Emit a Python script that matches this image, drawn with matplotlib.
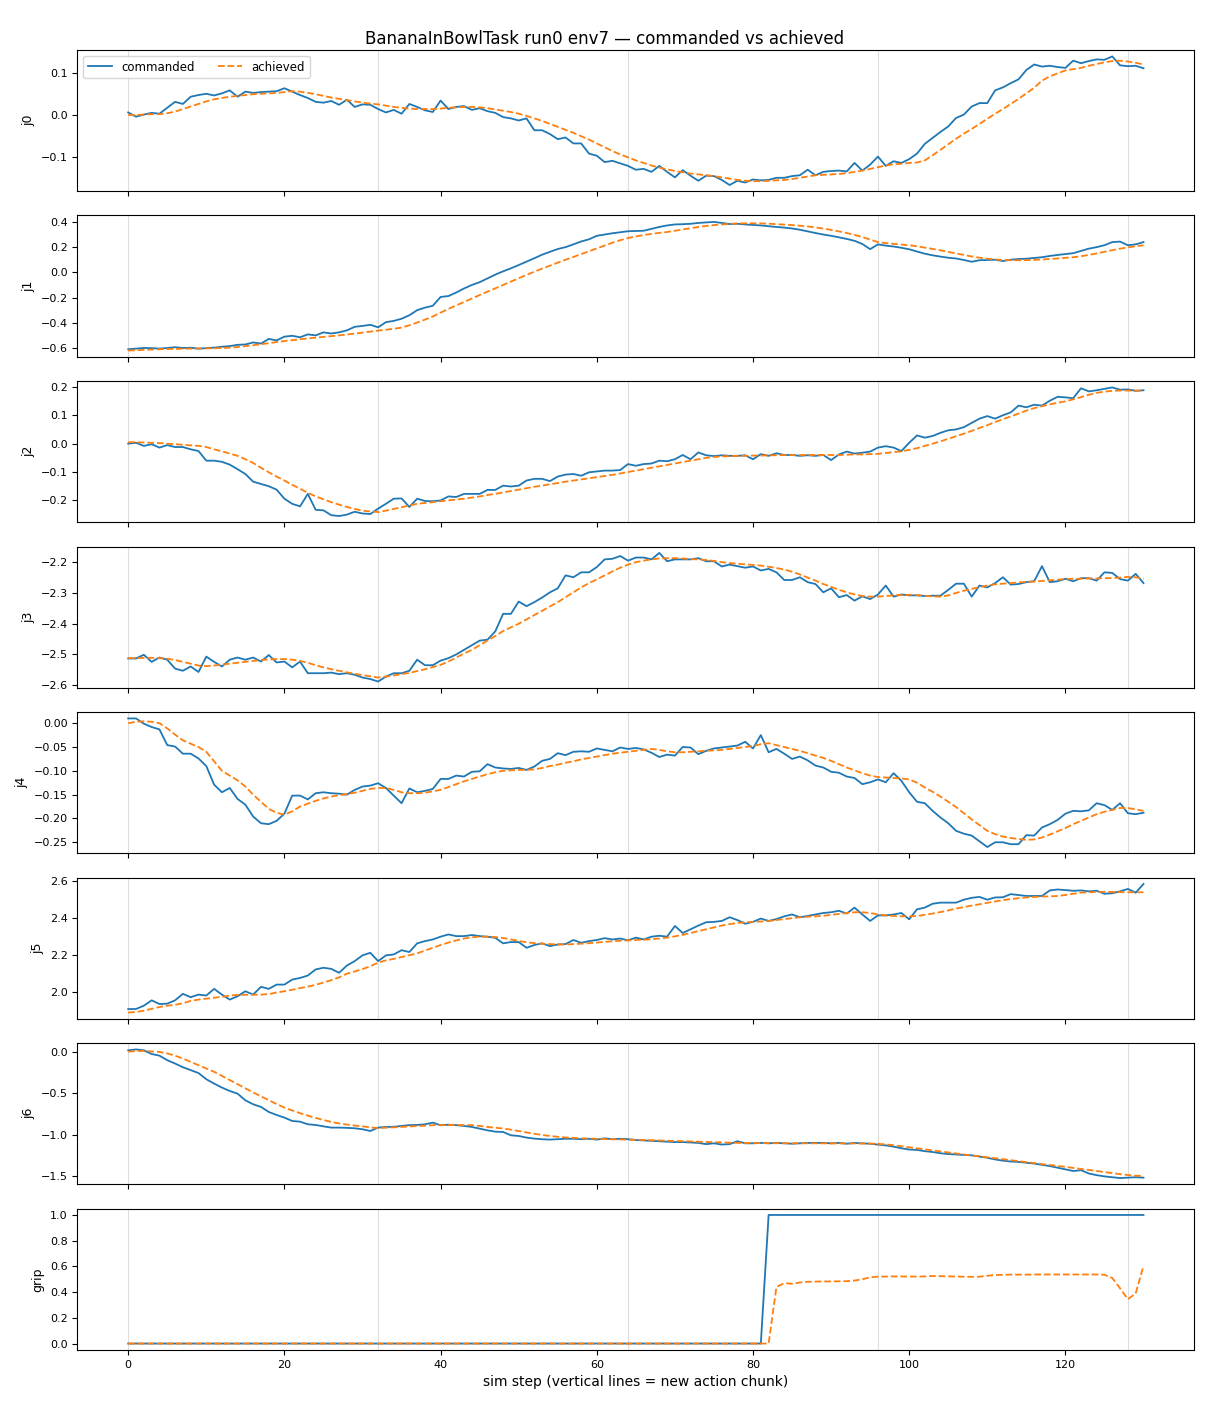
import matplotlib
matplotlib.use("Agg")
import matplotlib.pyplot as plt

steps = list(range(131))
chunk_starts = [0, 32, 64, 96, 128]
joint_labels = ["j0", "j1", "j2", "j3", "j4", "j5", "j6", "grip"]

j0_cmd = [0.006, -0.004, 0.001, 0.005, 0.003, 0.017, 0.031, 0.026, 0.043, 0.047,
          0.050, 0.046, 0.051, 0.058, 0.043, 0.055, 0.052, 0.054, 0.055, 0.056,
          0.063, 0.055, 0.047, 0.040, 0.031, 0.029, 0.033, 0.024, 0.036, 0.019,
          0.025, 0.024, 0.014, 0.006, 0.012, 0.003, 0.026, 0.019, 0.011, 0.007,
          0.034, 0.014, 0.019, 0.021, 0.012, 0.016, 0.009, 0.005, -0.005, -0.008,
          -0.013, -0.008, -0.036, -0.036, -0.045, -0.057, -0.053, -0.067, -0.067, -0.091,
          -0.096, -0.111, -0.108, -0.114, -0.120, -0.129, -0.127, -0.134, -0.120, -0.134,
          -0.147, -0.130, -0.143, -0.155, -0.143, -0.144, -0.153, -0.165, -0.155, -0.159,
          -0.152, -0.154, -0.153, -0.148, -0.148, -0.144, -0.142, -0.129, -0.142, -0.134,
          -0.132, -0.131, -0.133, -0.113, -0.131, -0.117, -0.098, -0.120, -0.109, -0.113,
          -0.104, -0.091, -0.068, -0.054, -0.040, -0.027, -0.007, 0.001, 0.020, 0.028,
          0.028, 0.058, 0.065, 0.075, 0.084, 0.106, 0.119, 0.114, 0.116, 0.113,
          0.111, 0.128, 0.122, 0.127, 0.131, 0.130, 0.138, 0.117, 0.115, 0.116,
          0.110]
j0_ach = [0.000, 0.000, 0.001, 0.002, 0.002, 0.004, 0.008, 0.014, 0.020, 0.026,
          0.032, 0.037, 0.040, 0.043, 0.045, 0.047, 0.049, 0.050, 0.051, 0.052,
          0.054, 0.056, 0.055, 0.052, 0.049, 0.045, 0.041, 0.038, 0.035, 0.032,
          0.029, 0.027, 0.025, 0.022, 0.019, 0.017, 0.015, 0.014, 0.014, 0.014,
          0.015, 0.017, 0.018, 0.019, 0.019, 0.018, 0.016, 0.013, 0.010, 0.007,
          0.003, -0.002, -0.008, -0.014, -0.021, -0.028, -0.035, -0.042, -0.050, -0.058,
          -0.067, -0.076, -0.085, -0.093, -0.100, -0.107, -0.113, -0.119, -0.124, -0.128,
          -0.132, -0.135, -0.138, -0.140, -0.142, -0.144, -0.147, -0.150, -0.153, -0.155,
          -0.156, -0.156, -0.155, -0.154, -0.153, -0.151, -0.148, -0.145, -0.142, -0.141,
          -0.140, -0.139, -0.137, -0.134, -0.131, -0.127, -0.123, -0.119, -0.116, -0.115,
          -0.113, -0.112, -0.107, -0.095, -0.082, -0.069, -0.056, -0.044, -0.033, -0.021,
          -0.009, 0.003, 0.014, 0.026, 0.038, 0.051, 0.064, 0.081, 0.091, 0.098,
          0.105, 0.108, 0.111, 0.116, 0.120, 0.124, 0.127, 0.128, 0.126, 0.123,
          0.119]

j1_cmd = [-0.610, -0.605, -0.600, -0.601, -0.605, -0.600, -0.594, -0.600, -0.598, -0.605,
          -0.601, -0.597, -0.590, -0.585, -0.575, -0.572, -0.556, -0.565, -0.528, -0.540,
          -0.510, -0.503, -0.515, -0.492, -0.500, -0.476, -0.485, -0.476, -0.460, -0.432,
          -0.425, -0.416, -0.436, -0.395, -0.385, -0.368, -0.340, -0.300, -0.280, -0.265,
          -0.195, -0.188, -0.160, -0.128, -0.100, -0.078, -0.048, -0.018, 0.008, 0.032,
          0.058, 0.085, 0.112, 0.140, 0.163, 0.185, 0.200, 0.222, 0.245, 0.262,
          0.290, 0.300, 0.310, 0.318, 0.326, 0.328, 0.330, 0.345, 0.360, 0.372,
          0.380, 0.382, 0.385, 0.392, 0.396, 0.400, 0.392, 0.383, 0.385, 0.380,
          0.376, 0.372, 0.366, 0.360, 0.355, 0.348, 0.338, 0.325, 0.312, 0.300,
          0.290, 0.278, 0.265, 0.250, 0.225, 0.184, 0.222, 0.212, 0.205, 0.195,
          0.183, 0.165, 0.148, 0.135, 0.125, 0.116, 0.110, 0.098, 0.084, 0.096,
          0.098, 0.100, 0.090, 0.100, 0.106, 0.108, 0.114, 0.120, 0.130, 0.138,
          0.145, 0.152, 0.170, 0.188, 0.200, 0.215, 0.240, 0.244, 0.215, 0.222,
          0.240]
j1_ach = [-0.620, -0.618, -0.615, -0.612, -0.610, -0.608, -0.607, -0.606, -0.605, -0.604,
          -0.603, -0.602, -0.600, -0.597, -0.592, -0.585, -0.578, -0.570, -0.562, -0.553,
          -0.545, -0.538, -0.531, -0.524, -0.518, -0.512, -0.506, -0.500, -0.493, -0.486,
          -0.478, -0.470, -0.462, -0.455, -0.448, -0.438, -0.420, -0.398, -0.375, -0.350,
          -0.320, -0.290, -0.262, -0.235, -0.208, -0.180, -0.153, -0.127, -0.100, -0.073,
          -0.047, -0.020, 0.005, 0.030, 0.053, 0.077, 0.100, 0.122, 0.145, 0.167,
          0.190, 0.212, 0.235, 0.255, 0.272, 0.285, 0.296, 0.305, 0.313, 0.320,
          0.330, 0.340, 0.350, 0.360, 0.368, 0.375, 0.380, 0.385, 0.388, 0.389,
          0.389, 0.388, 0.386, 0.382, 0.379, 0.375, 0.370, 0.364, 0.356, 0.347,
          0.337, 0.325, 0.312, 0.297, 0.280, 0.260, 0.240, 0.232, 0.226, 0.220,
          0.215, 0.207, 0.196, 0.186, 0.175, 0.162, 0.150, 0.138, 0.126, 0.116,
          0.108, 0.102, 0.098, 0.096, 0.096, 0.097, 0.099, 0.102, 0.106, 0.110,
          0.115, 0.120, 0.128, 0.138, 0.150, 0.163, 0.176, 0.188, 0.198, 0.207,
          0.215]

j2_cmd = [0.000, 0.003, -0.008, -0.002, -0.014, -0.005, -0.012, -0.012, -0.020, -0.026,
          -0.060, -0.060, -0.064, -0.074, -0.090, -0.107, -0.134, -0.142, -0.150, -0.162,
          -0.194, -0.212, -0.221, -0.177, -0.233, -0.235, -0.252, -0.255, -0.250, -0.240,
          -0.246, -0.248, -0.229, -0.212, -0.194, -0.193, -0.223, -0.194, -0.202, -0.203,
          -0.200, -0.186, -0.188, -0.177, -0.177, -0.177, -0.163, -0.163, -0.148, -0.151,
          -0.148, -0.130, -0.124, -0.124, -0.132, -0.116, -0.109, -0.107, -0.113, -0.101,
          -0.098, -0.095, -0.095, -0.093, -0.072, -0.078, -0.072, -0.070, -0.060, -0.062,
          -0.055, -0.040, -0.055, -0.031, -0.041, -0.044, -0.041, -0.043, -0.043, -0.041,
          -0.055, -0.037, -0.043, -0.034, -0.040, -0.040, -0.043, -0.041, -0.043, -0.040,
          -0.058, -0.038, -0.028, -0.035, -0.032, -0.028, -0.014, -0.009, -0.014, -0.026,
          0.003, 0.029, 0.021, 0.027, 0.038, 0.047, 0.050, 0.058, 0.073, 0.088,
          0.097, 0.088, 0.100, 0.110, 0.134, 0.128, 0.137, 0.134, 0.151, 0.165,
          0.163, 0.160, 0.195, 0.184, 0.188, 0.193, 0.198, 0.190, 0.191, 0.186,
          0.188]
j2_ach = [0.005, 0.005, 0.004, 0.003, 0.002, 0.000, -0.002, -0.004, -0.006, -0.008,
          -0.012, -0.020, -0.027, -0.035, -0.043, -0.055, -0.068, -0.085, -0.101, -0.116,
          -0.130, -0.145, -0.159, -0.173, -0.186, -0.196, -0.206, -0.215, -0.223, -0.230,
          -0.236, -0.239, -0.241, -0.236, -0.230, -0.224, -0.218, -0.212, -0.209, -0.206,
          -0.203, -0.200, -0.197, -0.194, -0.190, -0.186, -0.181, -0.177, -0.172, -0.167,
          -0.162, -0.157, -0.152, -0.148, -0.143, -0.139, -0.134, -0.130, -0.126, -0.122,
          -0.118, -0.114, -0.110, -0.105, -0.100, -0.095, -0.090, -0.085, -0.080, -0.075,
          -0.070, -0.065, -0.060, -0.055, -0.050, -0.047, -0.045, -0.044, -0.043, -0.043,
          -0.042, -0.042, -0.041, -0.041, -0.040, -0.040, -0.040, -0.040, -0.040, -0.040,
          -0.040, -0.040, -0.039, -0.038, -0.038, -0.037, -0.036, -0.033, -0.030, -0.027,
          -0.022, -0.016, -0.008, 0.000, 0.008, 0.017, 0.026, 0.035, 0.045, 0.055,
          0.065, 0.076, 0.086, 0.096, 0.106, 0.116, 0.125, 0.132, 0.138, 0.144,
          0.149, 0.156, 0.164, 0.172, 0.179, 0.183, 0.186, 0.187, 0.187, 0.187,
          0.187]

j3_cmd = [-2.513, -2.513, -2.501, -2.524, -2.510, -2.517, -2.546, -2.553, -2.539, -2.557,
          -2.507, -2.524, -2.539, -2.517, -2.510, -2.517, -2.510, -2.523, -2.502, -2.526,
          -2.523, -2.542, -2.523, -2.561, -2.561, -2.561, -2.559, -2.564, -2.561, -2.566,
          -2.575, -2.580, -2.588, -2.572, -2.561, -2.561, -2.553, -2.517, -2.535, -2.535,
          -2.520, -2.512, -2.500, -2.485, -2.470, -2.455, -2.452, -2.425, -2.368, -2.368,
          -2.328, -2.343, -2.330, -2.315, -2.298, -2.285, -2.243, -2.249, -2.233, -2.233,
          -2.216, -2.191, -2.189, -2.180, -2.195, -2.185, -2.185, -2.191, -2.170, -2.197,
          -2.191, -2.191, -2.191, -2.187, -2.197, -2.197, -2.214, -2.208, -2.213, -2.218,
          -2.214, -2.227, -2.222, -2.233, -2.258, -2.258, -2.249, -2.265, -2.271, -2.298,
          -2.285, -2.314, -2.307, -2.325, -2.311, -2.320, -2.305, -2.276, -2.312, -2.305,
          -2.308, -2.308, -2.310, -2.309, -2.309, -2.290, -2.270, -2.270, -2.312, -2.276,
          -2.282, -2.268, -2.249, -2.273, -2.271, -2.265, -2.262, -2.213, -2.265, -2.262,
          -2.254, -2.262, -2.252, -2.252, -2.260, -2.233, -2.235, -2.255, -2.260, -2.238,
          -2.268]
j3_ach = [-2.512, -2.512, -2.511, -2.511, -2.512, -2.514, -2.518, -2.524, -2.530, -2.536,
          -2.538, -2.536, -2.533, -2.530, -2.527, -2.524, -2.521, -2.518, -2.516, -2.515,
          -2.515, -2.517, -2.521, -2.527, -2.535, -2.542, -2.548, -2.553, -2.558, -2.563,
          -2.567, -2.571, -2.575, -2.572, -2.568, -2.564, -2.560, -2.554, -2.548, -2.541,
          -2.534, -2.523, -2.510, -2.497, -2.485, -2.470, -2.455, -2.440, -2.424, -2.412,
          -2.400, -2.386, -2.372, -2.358, -2.344, -2.330, -2.314, -2.298, -2.282, -2.268,
          -2.256, -2.243, -2.230, -2.218, -2.208, -2.200, -2.195, -2.191, -2.188, -2.187,
          -2.187, -2.188, -2.190, -2.191, -2.193, -2.196, -2.200, -2.203, -2.205, -2.207,
          -2.209, -2.211, -2.215, -2.219, -2.224, -2.231, -2.240, -2.250, -2.260, -2.271,
          -2.280, -2.290, -2.298, -2.305, -2.310, -2.312, -2.312, -2.310, -2.308, -2.307,
          -2.306, -2.307, -2.309, -2.311, -2.312, -2.308, -2.300, -2.293, -2.287, -2.281,
          -2.276, -2.272, -2.270, -2.268, -2.266, -2.264, -2.263, -2.261, -2.259, -2.257,
          -2.255, -2.254, -2.254, -2.253, -2.253, -2.252, -2.252, -2.250, -2.248, -2.249,
          -2.254]

j4_cmd = [0.010, 0.010, -0.001, -0.008, -0.013, -0.046, -0.049, -0.064, -0.064, -0.074,
          -0.090, -0.129, -0.145, -0.136, -0.159, -0.171, -0.196, -0.210, -0.212, -0.205,
          -0.190, -0.152, -0.152, -0.160, -0.147, -0.145, -0.147, -0.148, -0.150, -0.140,
          -0.133, -0.131, -0.126, -0.136, -0.152, -0.168, -0.137, -0.145, -0.142, -0.138,
          -0.117, -0.117, -0.110, -0.112, -0.102, -0.101, -0.086, -0.093, -0.095, -0.096,
          -0.094, -0.098, -0.091, -0.079, -0.075, -0.063, -0.067, -0.060, -0.059, -0.060,
          -0.053, -0.056, -0.059, -0.051, -0.054, -0.052, -0.055, -0.062, -0.071, -0.066,
          -0.068, -0.050, -0.051, -0.065, -0.058, -0.053, -0.051, -0.049, -0.047, -0.039,
          -0.053, -0.025, -0.061, -0.054, -0.064, -0.075, -0.070, -0.078, -0.089, -0.093,
          -0.102, -0.104, -0.112, -0.115, -0.128, -0.124, -0.118, -0.124, -0.105, -0.121,
          -0.145, -0.165, -0.168, -0.184, -0.198, -0.210, -0.226, -0.232, -0.236, -0.248,
          -0.260, -0.250, -0.250, -0.254, -0.254, -0.235, -0.236, -0.219, -0.212, -0.203,
          -0.190, -0.184, -0.185, -0.183, -0.168, -0.172, -0.182, -0.168, -0.189, -0.191,
          -0.188]
j4_ach = [0.000, 0.003, 0.004, 0.003, 0.000, -0.011, -0.024, -0.036, -0.043, -0.050,
          -0.060, -0.080, -0.100, -0.110, -0.120, -0.133, -0.150, -0.165, -0.180, -0.188,
          -0.192, -0.185, -0.175, -0.169, -0.163, -0.158, -0.154, -0.151, -0.149, -0.146,
          -0.142, -0.138, -0.136, -0.136, -0.140, -0.145, -0.147, -0.147, -0.146, -0.143,
          -0.140, -0.134, -0.128, -0.122, -0.117, -0.112, -0.107, -0.103, -0.100, -0.099,
          -0.098, -0.098, -0.097, -0.094, -0.090, -0.087, -0.083, -0.080, -0.076, -0.073,
          -0.070, -0.067, -0.064, -0.062, -0.060, -0.058, -0.056, -0.054, -0.056, -0.059,
          -0.061, -0.061, -0.060, -0.059, -0.058, -0.057, -0.056, -0.054, -0.052, -0.050,
          -0.048, -0.044, -0.042, -0.046, -0.050, -0.054, -0.058, -0.063, -0.068, -0.073,
          -0.079, -0.086, -0.093, -0.099, -0.105, -0.110, -0.113, -0.114, -0.115, -0.116,
          -0.118, -0.125, -0.135, -0.144, -0.154, -0.165, -0.176, -0.189, -0.202, -0.214,
          -0.226, -0.233, -0.238, -0.241, -0.243, -0.245, -0.244, -0.240, -0.234, -0.227,
          -0.220, -0.212, -0.205, -0.198, -0.191, -0.186, -0.182, -0.178, -0.178, -0.181,
          -0.184]

j5_cmd = [1.909, 1.909, 1.927, 1.956, 1.936, 1.938, 1.956, 1.991, 1.973, 1.987,
          1.982, 2.018, 1.987, 1.960, 1.978, 2.005, 1.987, 2.029, 2.018, 2.041,
          2.041, 2.068, 2.077, 2.090, 2.123, 2.132, 2.126, 2.105, 2.144, 2.168,
          2.199, 2.213, 2.168, 2.199, 2.204, 2.227, 2.217, 2.264, 2.276, 2.285,
          2.300, 2.312, 2.303, 2.303, 2.309, 2.303, 2.300, 2.294, 2.264, 2.271,
          2.271, 2.240, 2.255, 2.264, 2.249, 2.258, 2.260, 2.282, 2.267, 2.276,
          2.282, 2.292, 2.285, 2.290, 2.280, 2.295, 2.285, 2.300, 2.305, 2.300,
          2.358, 2.320, 2.340, 2.360, 2.378, 2.380, 2.385, 2.405, 2.390, 2.370,
          2.380, 2.398, 2.385, 2.395, 2.410, 2.420, 2.405, 2.412, 2.420, 2.428,
          2.432, 2.440, 2.425, 2.457, 2.420, 2.385, 2.415, 2.415, 2.420, 2.428,
          2.394, 2.448, 2.457, 2.478, 2.484, 2.484, 2.484, 2.500, 2.510, 2.515,
          2.500, 2.512, 2.513, 2.530, 2.525, 2.520, 2.520, 2.520, 2.550, 2.555,
          2.552, 2.548, 2.550, 2.545, 2.548, 2.532, 2.535, 2.545, 2.558, 2.538,
          2.585]
j5_ach = [1.890, 1.893, 1.900, 1.910, 1.920, 1.927, 1.932, 1.940, 1.953, 1.960,
          1.965, 1.970, 1.975, 1.982, 1.985, 1.986, 1.986, 1.987, 1.990, 1.998,
          2.005, 2.013, 2.022, 2.030, 2.040, 2.052, 2.065, 2.080, 2.100, 2.112,
          2.125, 2.140, 2.160, 2.172, 2.180, 2.190, 2.200, 2.210, 2.225, 2.240,
          2.255, 2.268, 2.280, 2.290, 2.297, 2.300, 2.300, 2.298, 2.293, 2.285,
          2.277, 2.270, 2.265, 2.262, 2.260, 2.258, 2.258, 2.260, 2.262, 2.265,
          2.268, 2.272, 2.275, 2.278, 2.280, 2.282, 2.284, 2.286, 2.290, 2.295,
          2.302, 2.310, 2.320, 2.330, 2.340, 2.350, 2.360, 2.368, 2.374, 2.378,
          2.380, 2.382, 2.385, 2.390, 2.395, 2.400, 2.405, 2.408, 2.410, 2.413,
          2.418, 2.423, 2.428, 2.432, 2.432, 2.428, 2.420, 2.415, 2.412, 2.410,
          2.410, 2.412, 2.418, 2.425, 2.433, 2.442, 2.452, 2.460, 2.468, 2.475,
          2.483, 2.490, 2.498, 2.503, 2.508, 2.512, 2.515, 2.517, 2.518, 2.520,
          2.525, 2.532, 2.538, 2.540, 2.542, 2.542, 2.542, 2.541, 2.540, 2.540,
          2.540]

j6_cmd = [0.020, 0.030, 0.020, -0.025, -0.045, -0.100, -0.140, -0.185, -0.220, -0.255,
          -0.330, -0.383, -0.431, -0.472, -0.504, -0.585, -0.633, -0.665, -0.726, -0.762,
          -0.794, -0.835, -0.843, -0.875, -0.883, -0.900, -0.915, -0.915, -0.918, -0.923,
          -0.935, -0.956, -0.915, -0.907, -0.905, -0.895, -0.885, -0.883, -0.875, -0.855,
          -0.887, -0.880, -0.885, -0.895, -0.907, -0.927, -0.948, -0.964, -0.968, -1.008,
          -1.016, -1.036, -1.048, -1.056, -1.060, -1.055, -1.050, -1.050, -1.055, -1.050,
          -1.060, -1.045, -1.055, -1.050, -1.055, -1.065, -1.070, -1.075, -1.080, -1.085,
          -1.090, -1.090, -1.095, -1.100, -1.115, -1.105, -1.120, -1.115, -1.080, -1.105,
          -1.105, -1.100, -1.105, -1.100, -1.105, -1.110, -1.105, -1.100, -1.100, -1.100,
          -1.105, -1.100, -1.110, -1.100, -1.105, -1.110, -1.120, -1.130, -1.145, -1.165,
          -1.180, -1.185, -1.200, -1.210, -1.225, -1.235, -1.240, -1.245, -1.250, -1.265,
          -1.280, -1.300, -1.315, -1.325, -1.330, -1.340, -1.350, -1.365, -1.380, -1.400,
          -1.420, -1.440, -1.430, -1.470, -1.490, -1.505, -1.515, -1.525, -1.520, -1.515,
          -1.520]
j6_ach = [0.004, 0.010, 0.012, 0.006, 0.000, -0.018, -0.045, -0.080, -0.120, -0.160,
          -0.200, -0.240, -0.290, -0.340, -0.390, -0.440, -0.490, -0.537, -0.585, -0.630,
          -0.673, -0.708, -0.740, -0.770, -0.798, -0.823, -0.847, -0.864, -0.878, -0.890,
          -0.900, -0.912, -0.922, -0.916, -0.912, -0.906, -0.901, -0.896, -0.890, -0.886,
          -0.884, -0.883, -0.883, -0.884, -0.886, -0.895, -0.907, -0.916, -0.926, -0.940,
          -0.957, -0.973, -0.990, -1.004, -1.016, -1.026, -1.034, -1.040, -1.045, -1.048,
          -1.051, -1.054, -1.056, -1.058, -1.060, -1.062, -1.065, -1.068, -1.071, -1.074,
          -1.077, -1.080, -1.083, -1.086, -1.089, -1.092, -1.095, -1.098, -1.100, -1.101,
          -1.102, -1.103, -1.103, -1.104, -1.104, -1.104, -1.105, -1.105, -1.105, -1.106,
          -1.106, -1.106, -1.107, -1.107, -1.108, -1.108, -1.112, -1.118, -1.128, -1.140,
          -1.153, -1.166, -1.178, -1.190, -1.202, -1.215, -1.228, -1.240, -1.252, -1.263,
          -1.274, -1.285, -1.297, -1.309, -1.321, -1.333, -1.345, -1.356, -1.367, -1.378,
          -1.390, -1.402, -1.414, -1.427, -1.440, -1.453, -1.465, -1.478, -1.488, -1.496,
          -1.502]

grip_cmd = [0.0, 0.0, 0.0, 0.0, 0.0, 0.0, 0.0, 0.0, 0.0, 0.0,
            0.0, 0.0, 0.0, 0.0, 0.0, 0.0, 0.0, 0.0, 0.0, 0.0,
            0.0, 0.0, 0.0, 0.0, 0.0, 0.0, 0.0, 0.0, 0.0, 0.0,
            0.0, 0.0, 0.0, 0.0, 0.0, 0.0, 0.0, 0.0, 0.0, 0.0,
            0.0, 0.0, 0.0, 0.0, 0.0, 0.0, 0.0, 0.0, 0.0, 0.0,
            0.0, 0.0, 0.0, 0.0, 0.0, 0.0, 0.0, 0.0, 0.0, 0.0,
            0.0, 0.0, 0.0, 0.0, 0.0, 0.0, 0.0, 0.0, 0.0, 0.0,
            0.0, 0.0, 0.0, 0.0, 0.0, 0.0, 0.0, 0.0, 0.0, 0.0,
            0.0, 0.0, 1.0, 1.0, 1.0, 1.0, 1.0, 1.0, 1.0, 1.0,
            1.0, 1.0, 1.0, 1.0, 1.0, 1.0, 1.0, 1.0, 1.0, 1.0,
            1.0, 1.0, 1.0, 1.0, 1.0, 1.0, 1.0, 1.0, 1.0, 1.0,
            1.0, 1.0, 1.0, 1.0, 1.0, 1.0, 1.0, 1.0, 1.0, 1.0,
            1.0, 1.0, 1.0, 1.0, 1.0, 1.0, 1.0, 1.0, 1.0, 1.0,
            1.0]
grip_ach = [0.0, 0.0, 0.0, 0.0, 0.0, 0.0, 0.0, 0.0, 0.0, 0.0,
            0.0, 0.0, 0.0, 0.0, 0.0, 0.0, 0.0, 0.0, 0.0, 0.0,
            0.0, 0.0, 0.0, 0.0, 0.0, 0.0, 0.0, 0.0, 0.0, 0.0,
            0.0, 0.0, 0.0, 0.0, 0.0, 0.0, 0.0, 0.0, 0.0, 0.0,
            0.0, 0.0, 0.0, 0.0, 0.0, 0.0, 0.0, 0.0, 0.0, 0.0,
            0.0, 0.0, 0.0, 0.0, 0.0, 0.0, 0.0, 0.0, 0.0, 0.0,
            0.0, 0.0, 0.0, 0.0, 0.0, 0.0, 0.0, 0.0, 0.0, 0.0,
            0.0, 0.0, 0.0, 0.0, 0.0, 0.0, 0.0, 0.0, 0.0, 0.0,
            0.0, 0.0, 0.0, 0.440, 0.470, 0.465, 0.475, 0.480, 0.482, 0.483,
            0.483, 0.484, 0.485, 0.490, 0.500, 0.515, 0.520, 0.521, 0.522, 0.522,
            0.521, 0.521, 0.522, 0.525, 0.524, 0.523, 0.521, 0.520, 0.519, 0.520,
            0.527, 0.533, 0.535, 0.536, 0.536, 0.536, 0.537, 0.537, 0.537, 0.537,
            0.537, 0.537, 0.537, 0.537, 0.537, 0.535, 0.510, 0.430, 0.345, 0.390,
            0.605]

commanded = [j0_cmd, j1_cmd, j2_cmd, j3_cmd, j4_cmd, j5_cmd, j6_cmd, grip_cmd]
achieved = [j0_ach, j1_ach, j2_ach, j3_ach, j4_ach, j5_ach, j6_ach, grip_ach]

fig, axes = plt.subplots(8, 1, figsize=(12.1, 14.08), dpi=100, sharex=True)
fig.subplots_adjust(left=0.064, right=0.987, top=0.9645, bottom=0.0412, hspace=0.17)

for k, ax in enumerate(axes):
    for t in chunk_starts:
        ax.axvline(t, color="#dddddd", lw=0.8, zorder=0)
    ax.plot(steps, commanded[k], color="C0", lw=1.3, label="commanded")
    ax.plot(steps, achieved[k], color="C1", lw=1.3, ls="--", label="achieved")
    ax.set_ylabel(joint_labels[k], fontsize=9)
    ax.tick_params(labelsize=8)

axes[0].legend(loc="upper left", ncol=2, fontsize=8.5)
axes[-1].set_xlabel("sim step (vertical lines = new action chunk)", fontsize=10)
fig.suptitle("BananaInBowlTask run0 env7 — commanded vs achieved", fontsize=12, y=0.979)

fig.savefig("out.png", dpi=100)
